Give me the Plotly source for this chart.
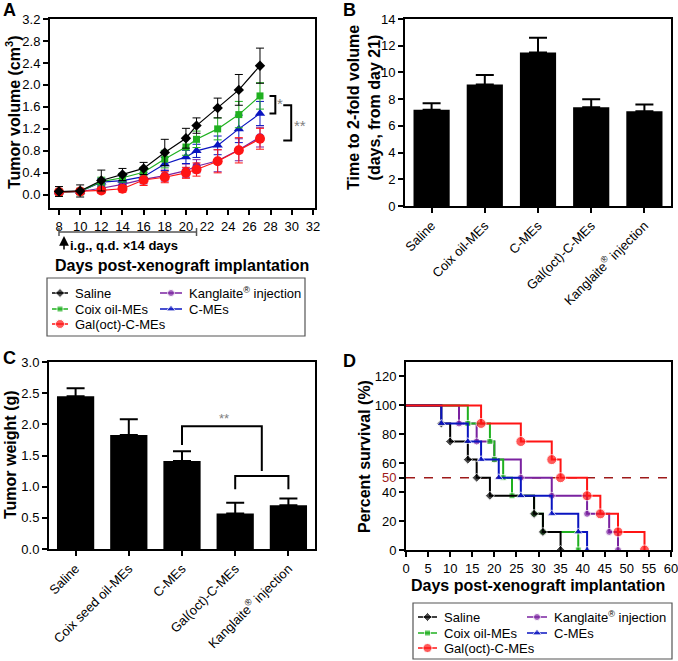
import plotly.graph_objects as go

FONT = "Liberation Sans, Arial, sans-serif"
W, H = 678, 661

# ---------------- data ----------------
# Panel A: tumor volume (cm3)
days_a = [8, 10, 12, 14, 16, 18, 20, 21, 23, 25, 27]
vol_saline = [0.06, 0.07, 0.26, 0.37, 0.48, 0.77, 1.03, 1.26, 1.58, 1.91, 2.35]
err_saline = [0.09, 0.11, 0.19, 0.11, 0.11, 0.24, 0.18, 0.14, 0.18, 0.28, 0.32]
vol_coix = [0.05, 0.06, 0.24, 0.31, 0.41, 0.65, 0.87, 1.01, 1.20, 1.46, 1.80]
err_coix = [0.05, 0.06, 0.08, 0.08, 0.09, 0.16, 0.15, 0.15, 0.20, 0.24, 0.24]
vol_cmes = [0.05, 0.06, 0.23, 0.26, 0.33, 0.56, 0.69, 0.80, 0.90, 1.20, 1.48]
err_cmes = [0.04, 0.05, 0.07, 0.08, 0.08, 0.12, 0.12, 0.12, 0.17, 0.25, 0.22]
vol_kang = [0.05, 0.06, 0.12, 0.19, 0.28, 0.35, 0.44, 0.52, 0.62, 0.82, 1.05]
err_kang = [0.04, 0.05, 0.06, 0.08, 0.08, 0.10, 0.12, 0.12, 0.20, 0.20, 0.18]
vol_gal = [0.05, 0.06, 0.08, 0.11, 0.27, 0.32, 0.40, 0.46, 0.61, 0.81, 1.02]
err_gal = [0.04, 0.05, 0.05, 0.06, 0.10, 0.10, 0.10, 0.12, 0.21, 0.23, 0.19]
ticks_a_x = [8, 10, 12, 14, 16, 18, 20, 22, 24, 26, 28, 30, 32]
ticks_a_y = [0.0, 0.4, 0.8, 1.2, 1.6, 2.0, 2.4, 2.8, 3.2]

# Panel B: time to 2-fold volume
groups_b = ["Saline", "Coix oil-MEs", "C-MEs", "Gal(oct)-C-MEs", "Kanglaite<sup>®</sup> injection"]
double_time = [7.2, 9.1, 11.5, 7.4, 7.1]
double_err = [0.5, 0.7, 1.1, 0.6, 0.5]
ticks_b_y = [0, 2, 4, 6, 8, 10, 12, 14]

# Panel C: tumor weight
groups_c = ["Saline", "Coix seed oil-MEs", "C-MEs", "Gal(oct)-C-MEs", "Kanglaite<sup>®</sup> injection"]
weight = [2.45, 1.83, 1.41, 0.57, 0.70]
weight_err = [0.13, 0.25, 0.16, 0.17, 0.11]
ticks_c_y = [0.0, 0.5, 1.0, 1.5, 2.0, 2.5, 3.0]

# Panel D: survival
surv_pct = [100, 87.5, 75, 62.5, 50, 37.5, 25, 12.5, 0]
surv_days_saline = [0, 8, 10, 14, 16, 19, 29, 31, 35]
surv_days_coix = [0, 14, 19, 20, 22, 24, 29, 31, 39]
surv_days_cmes = [0, 8, 14, 17, 21, 26, 33, 39, 41]
surv_days_kang = [0, 12, 16, 20, 26, 33, 41, 46, 48]
surv_days_gal = [0, 17, 26, 33, 35, 41, 44, 48, 54]
ticks_d_x = [0, 5, 10, 15, 20, 25, 30, 35, 40, 45, 50, 55, 60]
ticks_d_y = [0, 20, 40, 50, 60, 80, 100, 120]

# ---------------- styles ----------------
C_BLACK = "#000000"
C_GREEN = "#1fb01f"
C_RED = "#ff1414"
C_BLUE = "#0a14c0"
C_PURPLE = "#7a22a0"
C_DARKRED = "#9e1a1a"
C_STAR = "#808080"

series = {
    "saline": dict(name="Saline", color=C_BLACK, symbol="diamond", size=8),
    "coix": dict(name="Coix oil-MEs", color=C_GREEN, symbol="square", size=7),
    "cmes": dict(name="C-MEs", color=C_BLUE, symbol="triangle-up", size=9),
    "kang": dict(name="Kanglaite<sup>®</sup> injection", color=C_PURPLE, symbol="circle", size=8),
    "gal": dict(name="Gal(oct)-C-MEs", color=C_RED, symbol="circle", size=10),
}

def px_x(p):
    return p / W

def px_y(p):
    return 1 - p / H

def axis_style(**kw):
    d = dict(showline=True, linecolor="black", linewidth=2, mirror=True,
             ticks="outside", ticklen=5, tickwidth=1.5, tickcolor="black",
             showgrid=False, zeroline=False, automargin=False, fixedrange=True,
             ticklabeloverflow="allow",
             tickfont=dict(size=13, family=FONT, color="black"))
    d.update(kw)
    return d

fig = go.Figure()

# ---------------- Panel A ----------------
vol_data = {"kang": (vol_kang, err_kang), "cmes": (vol_cmes, err_cmes),
            "coix": (vol_coix, err_coix), "gal": (vol_gal, err_gal),
            "saline": (vol_saline, err_saline)}
for key, (v, e) in vol_data.items():
    s = series[key]
    fig.add_trace(go.Scatter(
        x=days_a, y=v, mode="lines+markers", xaxis="x", yaxis="y",
        line=dict(color=s["color"], width=1.2),
        marker=dict(color=s["color"], symbol=s["symbol"], size=s["size"]),
        error_y=dict(type="data", array=e, visible=True, color=s["color"],
                     thickness=1, width=4),
        showlegend=False, hoverinfo="skip"))

# ---------------- Panel B ----------------
xb = list(range(len(groups_b)))
fig.add_trace(go.Bar(
    x=xb, y=double_time, xaxis="x2", yaxis="y2", width=0.68,
    marker=dict(color="black", line=dict(width=0)),
    error_y=dict(type="data", symmetric=False, array=double_err,
                 arrayminus=[0] * len(double_err), color="black", thickness=2, width=9),
    showlegend=False, hoverinfo="skip"))

# ---------------- Panel C ----------------
xc = list(range(len(groups_c)))
fig.add_trace(go.Bar(
    x=xc, y=weight, xaxis="x3", yaxis="y3", width=0.7,
    marker=dict(color="black", line=dict(width=0)),
    error_y=dict(type="data", symmetric=False, array=weight_err,
                 arrayminus=[0] * len(weight_err), color="black", thickness=2, width=9),
    showlegend=False, hoverinfo="skip"))

# ---------------- Panel D ----------------
surv_data = {"kang": surv_days_kang, "coix": surv_days_coix, "saline": surv_days_saline,
             "cmes": surv_days_cmes, "gal": surv_days_gal}
for key, dd in surv_data.items():
    s = series[key]
    ms = s["size"] - 1 if key != "gal" else 10
    fig.add_trace(go.Scatter(
        x=dd, y=surv_pct, mode="lines+markers", xaxis="x4", yaxis="y4",
        line=dict(color=s["color"], width=2, shape="hv"),
        marker=dict(color=s["color"], symbol=s["symbol"],
                    size=[0] + [ms] * (len(dd) - 1)),
        showlegend=False, hoverinfo="skip"))

# ---------------- Legend keys (pixel overlay) ----------------
def legend_block(box, col1_x, col2_x, rows, text_dx):
    shapes = [dict(type="rect", xref="x5", yref="y5", x0=box[0], y0=box[1],
                   x1=box[2], y1=box[3], line=dict(color="#555555", width=1.2))]
    entries = [("saline", col1_x, rows[0]), ("coix", col1_x, rows[1]), ("gal", col1_x, rows[2]),
               ("kang", col2_x, rows[0]), ("cmes", col2_x, rows[1])]
    anns = []
    for key, (x0, x1), yy in entries:
        s = series[key]
        fig.add_trace(go.Scatter(
            x=[x0, (x0 + x1) / 2, x1], y=[yy, yy, yy], mode="lines+markers",
            xaxis="x5", yaxis="y5",
            line=dict(color=s["color"], width=1.5),
            marker=dict(color=s["color"], symbol=s["symbol"], size=[0, s["size"] - 1, 0]),
            showlegend=False, hoverinfo="skip"))
        anns.append(dict(xref="x5", yref="y5", x=x1 + text_dx, y=yy, text=s["name"],
                         showarrow=False, xanchor="left", yanchor="middle",
                         font=dict(size=13, family=FONT, color="black")))
    return shapes, anns

shapesA, annsA = legend_block((47, 278, 305, 336), (52, 68), (160, 182), (293, 309, 324), 5)
shapesD, annsD = legend_block((413, 603, 672, 659), (418, 437), (527, 547), (617, 633, 648), 5)

shapes = shapesA + shapesD
annotations = annsA + annsD

# ---------------- decorations ----------------
# A: treatment bracket below axis
shapes += [
    dict(type="line", xref="x", yref="y5", x0=days_a[0], x1=21, y0=232, y1=232,
         line=dict(color="#555555", width=1.5)),
    dict(type="line", xref="x", yref="y5", x0=days_a[0], x1=days_a[0], y0=228, y1=236,
         line=dict(color="#555555", width=1.5)),
    dict(type="line", xref="x", yref="y5", x0=21, x1=21, y0=228, y1=236,
         line=dict(color="#555555", width=1.5)),
]
# A: significance brackets
shapes += [
    dict(type="path", xref="x", yref="y",
         path="M 27.9,%.2f L 28.45,%.2f L 28.45,%.2f L 27.9,%.2f" % (vol_coix[-1], vol_coix[-1], vol_cmes[-1], vol_cmes[-1]),
         line=dict(color="black", width=2)),
    dict(type="path", xref="x", yref="y",
         path="M 29.2,1.63 L 29.95,1.63 L 29.95,0.99 L 29.2,0.99",
         line=dict(color="black", width=2)),
]
annotations += [
    dict(xref="x", yref="y", x=28.85, y=1.66, text="*", showarrow=False,
         font=dict(size=15, family=FONT, color=C_STAR)),
    dict(xref="x", yref="y", x=30.75, y=1.26, text="**", showarrow=False,
         font=dict(size=15, family=FONT, color=C_STAR)),
]
# C: significance brackets
left_b = weight[2] + weight_err[2] + 0.1
shapes += [
    dict(type="path", xref="x3", yref="y3",
         path="M 2,%.2f L 2,1.97 L 3.5,1.97 L 3.5,1.25" % left_b,
         line=dict(color="black", width=2)),
    dict(type="path", xref="x3", yref="y3",
         path="M 3,0.96 L 3,1.17 L 4,1.17 L 4,0.96",
         line=dict(color="black", width=2)),
]
annotations += [
    dict(xref="x3", yref="y3", x=2.78, y=2.1, text="**", showarrow=False,
         font=dict(size=13, family=FONT, color=C_STAR)),
]
# D: median line
shapes += [
    dict(type="line", xref="x4", yref="y4", x0=0, x1=60, y0=50, y1=50,
         line=dict(color=C_DARKRED, width=1.5, dash="dash"), layer="below"),
]

# Titles and labels (pixel overlay)
def txt(x, y, text, size=16, bold=True, angle=0, color="black", xanchor="center"):
    t = "<b>%s</b>" % text if bold else text
    return dict(xref="x5", yref="y5", x=x, y=y, text=t, showarrow=False,
                textangle=angle, xanchor=xanchor, yanchor="middle",
                font=dict(size=size, family=FONT, color=color))

annotations += [
    txt(9, 10, "A", 18), txt(349, 10, "B", 18), txt(9, 358, "C", 18), txt(349, 361, "D", 18),
    txt(13, 112, "Tumor volume (cm<sup>3</sup>)", 16, angle=-90),
    txt(182, 265, "Days post-xenograft implantation", 16),
    txt(68, 245, "i.g., q.d. ×14 days", 13, xanchor="left"),
    txt(364, 108, "Time to 2-fold volume<br>(days, from day 21)", 16, angle=-90),
    txt(10, 455, "Tumor weight (g)", 16, angle=-90),
    txt(364, 457, "Percent survival (%)", 16, angle=-90),
    txt(538, 585, "Days post-xenograft implantation", 16),
]
# arrow for dosing start
annotations.append(dict(xref="x5", yref="y5", x=64, y=236, ax=64, ay=251,
                        axref="x5", ayref="y5", text="", showarrow=True,
                        arrowhead=2, arrowsize=1.3, arrowwidth=1.5, arrowcolor="black"))

ylab_d = ["<span style='color:%s'>50</span>" % C_DARKRED if v == 50 else str(v) for v in ticks_d_y]

fig.update_layout(
    width=W, height=H, margin=dict(l=0, r=0, t=0, b=0),
    paper_bgcolor="white", plot_bgcolor="rgba(0,0,0,0)",
    font=dict(family=FONT, color="black"),
    showlegend=False,
    xaxis=axis_style(domain=[px_x(50), px_x(315)], range=[7.15, 32.2], anchor="y",
                     tickvals=ticks_a_x),
    yaxis=axis_style(domain=[px_y(208), px_y(19)], range=[-0.24, 3.2], anchor="x",
                     tickvals=ticks_a_y, tickformat=".1f"),
    xaxis2=axis_style(domain=[px_x(405), px_x(671)], range=[-0.5, 4.5], anchor="y2",
                      tickvals=xb, ticktext=groups_b, tickangle=-45),
    yaxis2=axis_style(domain=[px_y(206), px_y(19)], range=[0, 14], anchor="x2",
                      tickvals=ticks_b_y),
    xaxis3=axis_style(domain=[px_x(49), px_x(315)], range=[-0.5, 4.5], anchor="y3",
                      tickvals=xc, ticktext=groups_c, tickangle=-45),
    yaxis3=axis_style(domain=[px_y(549), px_y(362)], range=[0, 3.0], anchor="x3",
                      tickvals=ticks_c_y, tickformat=".1f"),
    xaxis4=axis_style(domain=[px_x(406), px_x(671)], range=[0, 60], anchor="y4",
                      tickvals=ticks_d_x),
    yaxis4=axis_style(domain=[px_y(550), px_y(362)], range=[0, 130], anchor="x4",
                      tickvals=ticks_d_y, ticktext=ylab_d),
    xaxis5=dict(domain=[0, 1], range=[0, W], anchor="y5", visible=False, fixedrange=True),
    yaxis5=dict(domain=[0, 1], range=[H, 0], anchor="x5", visible=False, fixedrange=True),
    shapes=shapes, annotations=annotations,
)

fig.write_html("out.html", config={"displayModeBar": False},
               post_script="document.body.style.margin='0px';document.body.style.overflow='hidden';")
